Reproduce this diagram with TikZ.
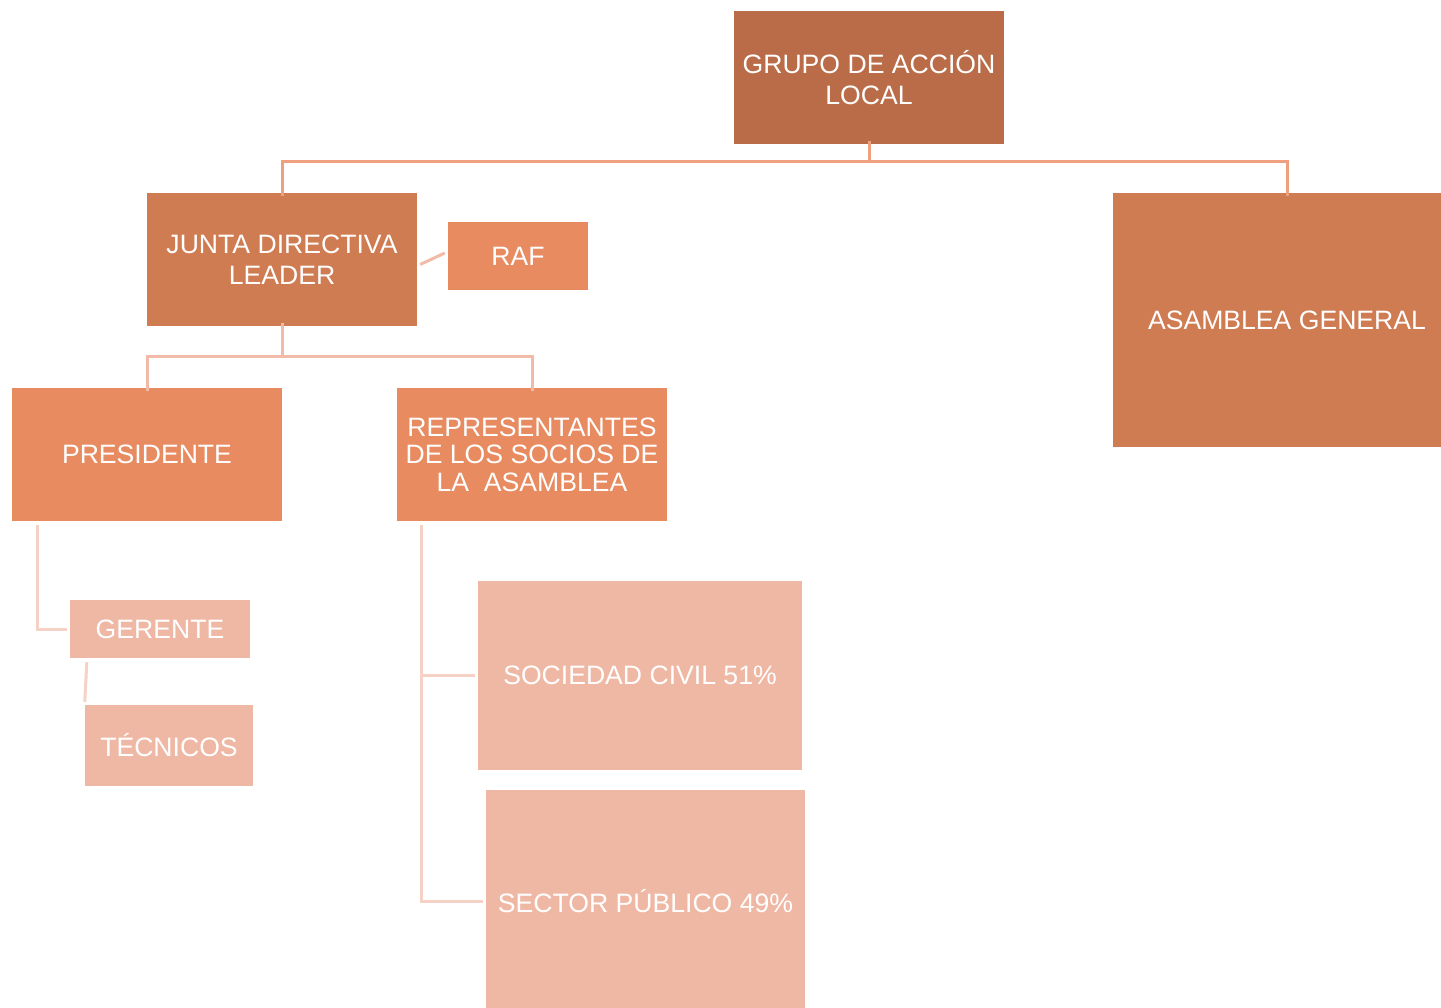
\documentclass[tikz,border=0pt]{standalone}
\usepackage{fontspec}
\setmainfont{Liberation Sans}
\usepackage{tikz}
\definecolor{myrust}{RGB}{185,108,71}
\definecolor{myterracotta}{RGB}{208,124,82}
\definecolor{myorange}{RGB}{232,139,96}
\definecolor{mysalmon}{RGB}{239,184,164}
\definecolor{mylineone}{RGB}{238,160,127}
\definecolor{mylinetwo}{RGB}{241,187,167}
\definecolor{mylinethree}{RGB}{246,209,197}

\begin{document}
\begin{tikzpicture}[x=1pt,y=-1pt,
    box/.style={rectangle, inner sep=0pt, text=white, align=center,
      font=\fontsize{26.6}{31}\selectfont},
    tight/.style={font=\fontsize{26.6}{27.5}\selectfont},
    link/.style={line width=3pt}]
    % Page area, in pixels of the original
    \clip (0,0) rectangle (1441,1008);

    % Top level
    \node[box, fill=myrust, minimum width=270pt, minimum height=133pt] (grupo) at (869,77.5) {GRUPO DE ACCIÓN\\LOCAL};

    % Second level
    \node[box, fill=myterracotta, minimum width=270pt, minimum height=133pt] (junta) at (282,259.5) {JUNTA DIRECTIVA\\LEADER};
    \node[box, fill=myorange, minimum width=140pt, minimum height=68pt] (raf) at (518,256) {RAF};
    \node[box, fill=myterracotta, minimum width=348pt, minimum height=254pt] (asamblea) at (1287,320) {ASAMBLEA GENERAL};

    % Third level
    \node[box, fill=myorange, minimum width=270pt, minimum height=133pt] (presid) at (147,454.5) {PRESIDENTE};
    \node[box, tight, fill=myorange, minimum width=270pt, minimum height=133pt] (repres) at (532,454.5) {REPRESENTANTES\\DE LOS SOCIOS DE\\LA\ \ ASAMBLEA};

    % Lower level
    \node[box, fill=mysalmon, minimum width=180pt, minimum height=58pt] (gerente) at (160,629) {GERENTE};
    \node[box, fill=mysalmon, minimum width=168pt, minimum height=81pt] (tecnicos) at (169,745.5) {TÉCNICOS};
    \node[box, fill=mysalmon, minimum width=324pt, minimum height=189pt] (socied) at (640,675.5) {SOCIEDAD CIVIL 51\%};
    \node[box, fill=mysalmon, minimum width=319pt, minimum height=222pt] (sector) at (645.5,901) {SECTOR PÚBLICO 49\%};

    % Connectors from the top
    \coordinate (busA) at (869,162);
    \draw[link, mylineone] ([yshift=3]grupo.south) -- (busA);
    \draw[link, mylineone] (busA) -| ([yshift=-3]junta.north);
    \draw[link, mylineone] (busA) -| ([yshift=-3]asamblea.north);

    % Connectors from the junta
    \coordinate (busB) at (282,357);
    \draw[link, mylinetwo] ([yshift=3]junta.south) -- (busB);
    \draw[link, mylinetwo] (busB) -| ([yshift=-3]presid.north);
    \draw[link, mylinetwo] (busB) -| ([yshift=-3]repres.north);
    \draw[link, mylinetwo] ([shift={(3,5)}]junta.east) -- ([shift={(-3,-3)}]raf.west);

    % Lower connectors
    \draw[link, mylinethree] ([shift={(26,4)}]presid.south west) |- ([xshift=-3]gerente.west);
    \draw[link, mylinethree] ([shift={(17,4)}]gerente.south west) -- ([shift={(0,-3)}]tecnicos.north west);
    \coordinate (trunk) at ([shift={(25,4)}]repres.south west);
    \draw[link, mylinethree] (trunk) |- ([xshift=-3]socied.west);
    \draw[link, mylinethree] (trunk) |- ([xshift=-3]sector.west);
\end{tikzpicture}
\end{document}
